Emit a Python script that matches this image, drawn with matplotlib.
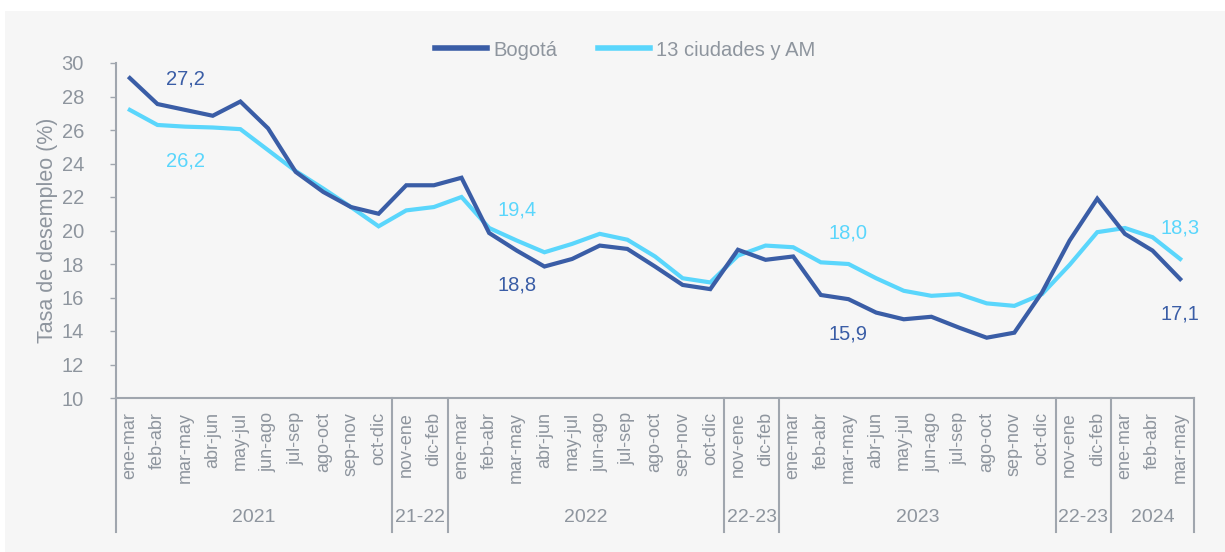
import matplotlib
matplotlib.use("Agg")
import matplotlib.pyplot as plt
import matplotlib.transforms as mtransforms
from matplotlib.patches import Rectangle

plt.rcParams['font.family'] = ['Liberation Sans', 'DejaVu Sans']

months = ["ene-mar", "feb-abr", "mar-may", "abr-jun", "may-jul", "jun-ago",
          "jul-sep", "ago-oct", "sep-nov", "oct-dic"]
groups = ["2021", "21-22", "2022", "22-23", "2023", "22-23", "2024"]
group_months = [months, ["nov-ene", "dic-feb"], months, ["nov-ene", "dic-feb"],
                months, ["nov-ene", "dic-feb"], ["ene-mar", "feb-abr", "mar-may"]]

bogota = [29.1, 27.55, 27.2, 26.85, 27.7, 26.1, 23.5, 22.3, 21.4, 21.0,
          22.7, 22.7, 23.15,
          19.85, 18.8, 17.85, 18.3, 19.1, 18.9, 17.85, 16.75, 16.5,
          18.85, 18.25, 18.45,
          16.15, 15.9, 15.1, 14.7, 14.85, 14.2, 13.6, 13.9, 16.3,
          19.4, 21.9,
          19.8, 18.8, 17.1]
ciudades = [27.2, 26.3, 26.2, 26.15, 26.05, 24.8, 23.55, 22.5, 21.4, 20.25,
            21.2, 21.4, 22.0,
            20.15, 19.4, 18.7, 19.2, 19.8, 19.45, 18.45, 17.15, 16.9,
            18.5, 19.1, 19.0,
            18.1, 18.0, 17.15, 16.4, 16.1, 16.2, 15.65, 15.5, 16.2,
            17.95, 19.9,
            20.15, 19.6, 18.3]

# annotated points: (index, text, position)
labels_b = [(2, "27,2", "above"), (14, "18,8", "below"), (26, "15,9", "below"), (38, "17,1", "below")]
labels_c = [(2, "26,2", "below"), (14, "19,4", "above"), (26, "18,0", "above"), (38, "18,3", "above")]

DARK = "#3A5DA6"
CYAN = "#5AD6FC"
GRAY = "#8E959E"
LINE = "#A0A6AE"
BG = "#F6F6F6"

W, H = 1225, 552
fig = plt.figure(figsize=(W / 100, H / 100), dpi=100, facecolor="white")
fig.patches.append(Rectangle((5 / W, 0), 1 - 5 / W, 1 - 11 / H, transform=fig.transFigure,
                             facecolor=BG, edgecolor="none", zorder=-10))

left, right, top, bottom = 116, 1194, 63, 398
ax = fig.add_axes([left / W, 1 - bottom / H, (right - left) / W, (bottom - top) / H])
ax.set_facecolor("none")

x = list(range(len(bogota)))
ax.plot(x, bogota, color=DARK, lw=3.0, label="Bogotá", solid_joinstyle="miter", zorder=3)
ax.plot(x, ciudades, color=CYAN, lw=3.0, label="13 ciudades y AM", solid_joinstyle="miter", zorder=2)

ax.set_xlim(-0.5, len(bogota) - 0.5)
ax.set_ylim(10, 30)
ax.set_yticks(range(10, 31, 2))
ax.tick_params(axis="y", colors=LINE, labelcolor=GRAY, labelsize=14.5, length=4, width=1, pad=19)
ax.set_xticks([])
for s in ["top", "right"]:
    ax.spines[s].set_visible(False)
for s in ["left", "bottom"]:
    ax.spines[s].set_color(LINE)
    ax.spines[s].set_linewidth(1.5)

ax.set_ylabel("Tasa de desempleo (%)", color=GRAY, fontsize=15.5, labelpad=3)

# annotations
for i, t, pos in labels_b:
    off = 22 if pos == "above" else -25
    ax.annotate(t, (i, bogota[i]), xytext=(0, off), textcoords="offset points",
                ha="center", va="center", color=DARK, fontsize=14.5)
for i, t, pos in labels_c:
    off = 22 if pos == "above" else -25
    ax.annotate(t, (i, ciudades[i]), xytext=(0, off), textcoords="offset points",
                ha="center", va="center", color=CYAN, fontsize=14.5)

# category axis
trans = mtransforms.blended_transform_factory(ax.transData, ax.transAxes)
sep_bottom = -(532 - bottom) / (bottom - top)
month_top = -(412 - bottom) / (bottom - top)
group_y = -(518 - bottom) / (bottom - top)

start = 0
edges = [-0.5]
for g, ms in zip(groups, group_months):
    for j, m in enumerate(ms):
        ax.text(start + j, month_top, m, transform=trans, rotation=90, ha="center", va="top",
                color=GRAY, fontsize=13)
    end = start + len(ms)
    ax.text((start + end - 1) / 2, group_y, g, transform=trans, ha="center", va="center",
            color=GRAY, fontsize=14)
    edges.append(end - 0.5)
    start = end

for e in edges:
    ax.plot([e, e], [0, sep_bottom], transform=trans, color=LINE, lw=1.5, clip_on=False)

leg = fig.legend(loc="center", bbox_to_anchor=(625 / W, 1 - 50 / H), ncol=2, frameon=False,
                 fontsize=14.5, handlelength=2.6, handletextpad=0.3, columnspacing=2.0,
                 labelcolor=GRAY)
for h in leg.get_lines():
    h.set_linewidth(4)

fig.savefig("out.png", dpi=100, facecolor=fig.get_facecolor())
